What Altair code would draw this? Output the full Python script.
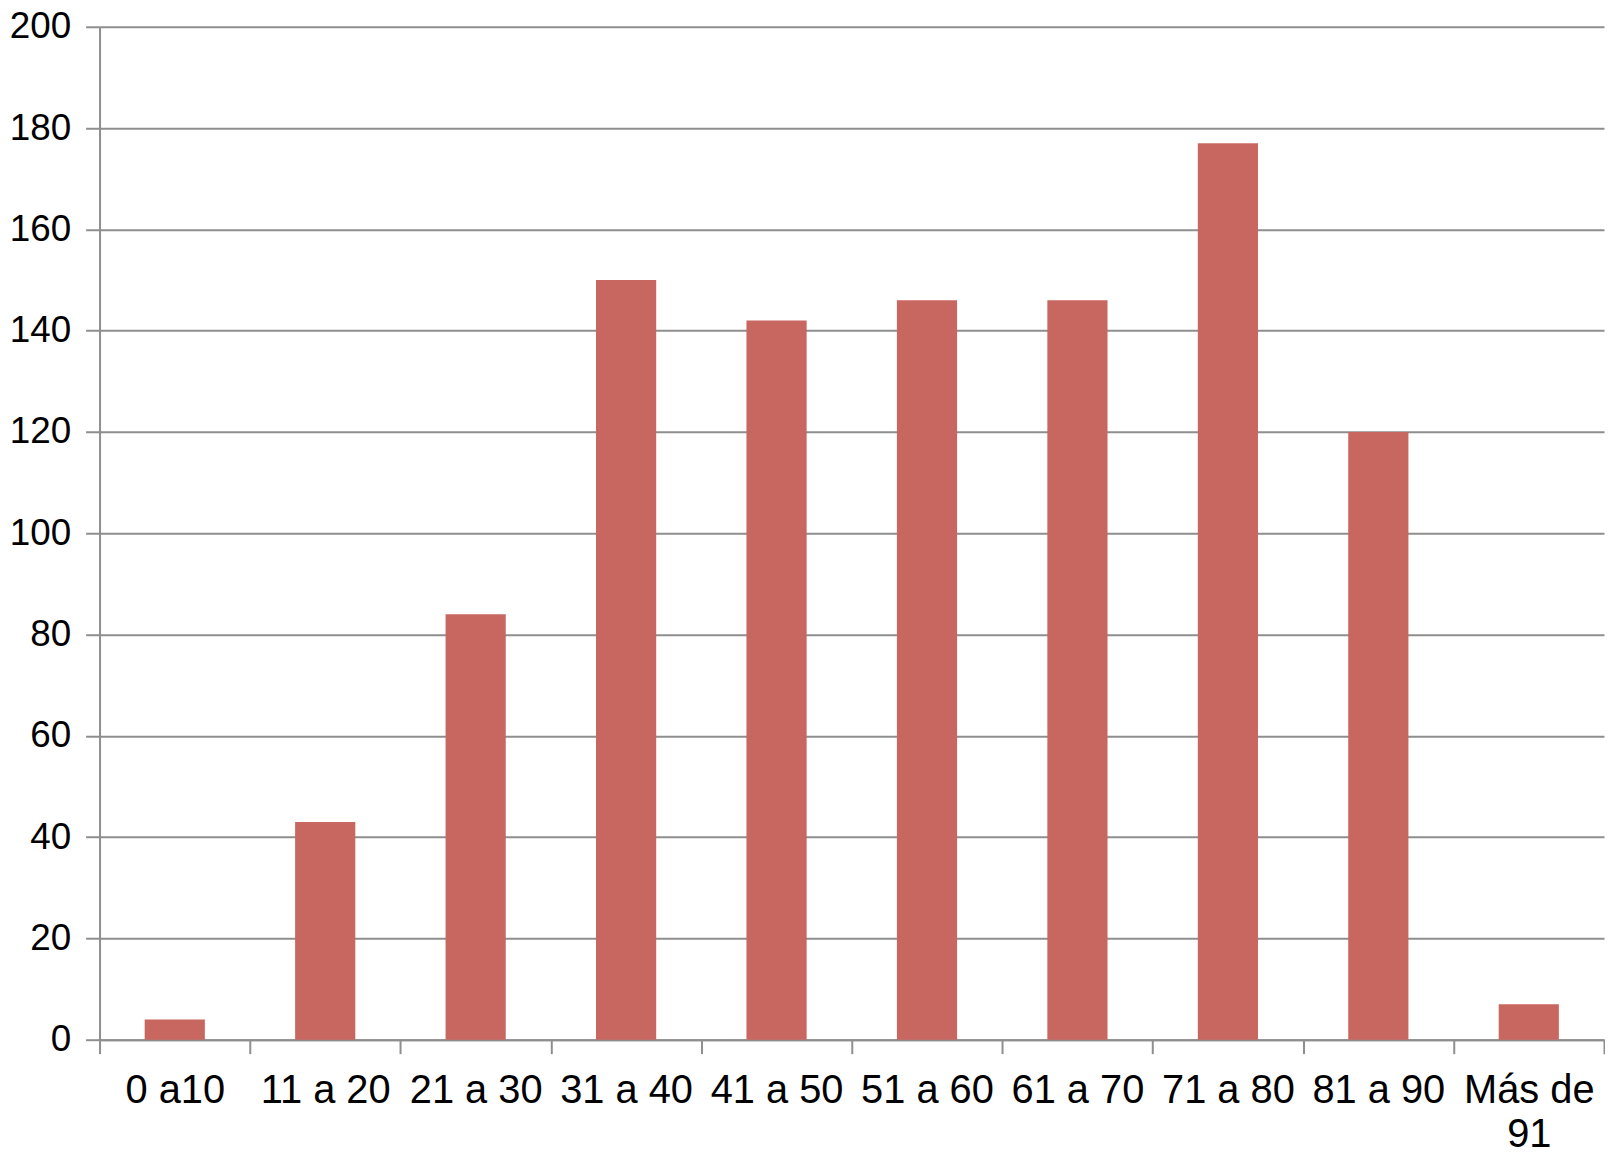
import altair as alt
import pandas as pd

categories = ["0 a10", "11 a 20", "21 a 30", "31 a 40", "41 a 50", "51 a 60",
              "61 a 70", "71 a 80", "81 a 90", "Más de 91"]
values = [4, 43, 84, 150, 142, 146, 146, 177, 120, 7]
y_ticks = [0, 20, 40, 60, 80, 100, 120, 140, 160, 180, 200]

df = pd.DataFrame({"cat": categories, "val": values})

GRAY = "#8e8e8e"
FONT = "Liberation Sans"

chart = alt.Chart(df).mark_bar(
    color="#C8675F", width=alt.RelativeBandSize(band=0.4)
).encode(
    x=alt.X("cat:N", sort=categories, title=None,
            scale=alt.Scale(paddingInner=0, paddingOuter=0),
            axis=alt.Axis(labelAngle=0, tickBand="extent", grid=False,
                          labelFontSize=40, labelFont=FONT, labelColor="black",
                          labelPadding=17, tickSize=14, labelOverlap=False,
                          labelLimit=400, labelLineHeight=44,
                          labelExpr="datum.value == 'Más de 91' ? ['Más de', '91'] : datum.value")),
    y=alt.Y("val:Q", title=None,
            scale=alt.Scale(domain=[0, 200], nice=False),
            axis=alt.Axis(values=y_ticks, grid=True, labelFontSize=37, labelFont=FONT,
                          labelColor="black", labelPadding=15, tickSize=14)),
).properties(
    width=1512, height=1018,
    padding={"left": 92, "top": 16, "right": 1, "bottom": 112},
    autosize="none",
).configure_axis(
    domainColor=GRAY, domainWidth=2, tickColor=GRAY, tickWidth=2,
    gridColor=GRAY, gridWidth=2, gridOpacity=1,
).configure_view(stroke=None)

chart.save("out.html", embed_options={"renderer": "svg", "actions": False})
